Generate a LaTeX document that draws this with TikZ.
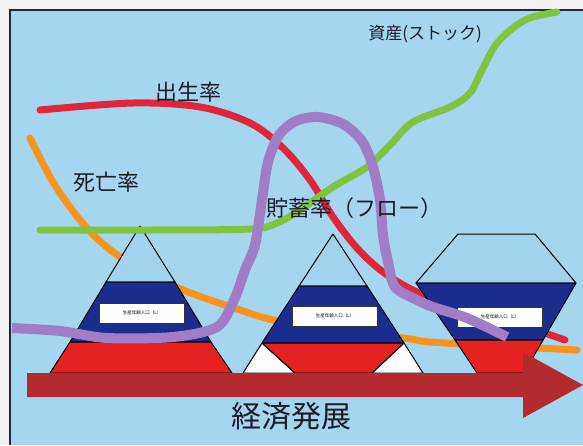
\documentclass[tikz,border=0pt]{standalone}
\usepackage{fontspec}
\setmainfont{Noto Sans CJK JP}
\definecolor{bgblue}{HTML}{A4D6F0}
\definecolor{pyrsky}{HTML}{A2D3EE}
\definecolor{navy}{HTML}{1B2E8E}
\definecolor{pyrred}{HTML}{E42222}
\definecolor{cgreen}{HTML}{7EC440}
\definecolor{cred}{HTML}{E0263A}
\definecolor{corange}{HTML}{F7941D}
\definecolor{cpurple}{HTML}{A07DC6}
\definecolor{arrowred}{HTML}{B32B2E}
\definecolor{txt}{HTML}{1C1C28}
\definecolor{framec}{HTML}{22283A}
\begin{document}
\begin{tikzpicture}[x=1pt,y=-1pt,
  curve/.style={line width=7pt, line cap=round, line join=round},
  lbl/.style={font=\fontsize{22}{22}\selectfont, text=txt, inner sep=0pt},
  agebox/.style={draw=black!80, fill=white, line width=0.7pt, minimum width=85pt,
    minimum height=20pt, inner sep=0pt, font=\fontsize{4.5}{5}\selectfont},
  layer/.style={draw=black, line width=1pt, line join=round}]
\useasboundingbox (0,0) rectangle (583,445);
\fill[white!94!black] (0,0) rectangle (583,445);
\fill[bgblue] (10,10) rectangle (583,445);
\draw[framec, line width=2pt] (10,445) -- (10,10) -- (583,10);

% red (birth rate)
\draw[curve, cred] plot[smooth, tension=0.55] coordinates {(40,110) (133,103) (200,107) (250,123) (283,148) (310,180) (333,217) (357,248) (383,272) (417,292) (470,312) (520,325) (565,340)};
% orange (death rate)
\draw[curve, corange] plot[smooth, tension=0.55] coordinates {(30,138) (50,177) (67,203) (85,226) (102,243) (122,258) (150,273) (183,290) (240,310) (273,320) (330,332) (403,338) (430,342) (500,346) (577,350)};

% pyramid 1
\path[layer, fill=pyrsky] (140,226) -- (106,282) -- (175,282) -- cycle;
\path[layer, fill=navy] (106,282) -- (175,282) -- (211,342) -- (70,342) -- cycle;
\path[layer, fill=pyrred] (70,342) -- (211,342) -- (232,373) -- (50,373) -- cycle;
\node[agebox] (age1) at (142,313) {生産年齢人口（L）};

% pyramid 2
\path[layer, fill=pyrsky] (333,234) -- (299,286) -- (367,286) -- cycle;
\path[layer, fill=navy] (299,286) -- (367,286) -- (404,343) -- (262,343) -- cycle;
\path[layer, fill=white] (262,343) -- (295,373) -- (243,373) -- cycle;
\path[layer, fill=white] (404,343) -- (423,373) -- (372,373) -- cycle;
\path[layer, fill=pyrred] (262,343) -- (404,343) -- (372,373) -- (295,373) -- cycle;
\node[agebox] (age2) at (335,316) {生産年齢人口（L）};

% pyramid 3 (hexagon)
\path[layer, fill=pyrsky] (458,234) -- (535,234) -- (576,283) -- (416,283) -- cycle;
\path[layer, fill=navy] (416,283) -- (576,283) -- (543,340) -- (455,340) -- cycle;
\path[layer, fill=pyrred] (455,340) -- (543,340) -- (524,373) -- (477,373) -- cycle;
\node[agebox] (age3) at (500,317) {生産年齢人口（L）};

% green (assets)
\draw[curve, cgreen] plot[smooth, tension=0.55] coordinates {(40,230) (150,230) (250,229) (277,223) (300,210) (333,187) (367,167) (390,145) (413,122) (450,107) (470,93) (482,70) (498,42) (525,20) (557,12)};

% purple (savings rate)
\draw[curve, cpurple, line width=10pt, line cap=butt] plot[smooth, tension=0.5] coordinates {(12,328) (60,331) (107,338) (173,337) (217,327) (234,300) (245,270) (255,245) (262,200) (268,162) (279,135) (296,121) (318,117) (343,124) (362,141) (373,167) (380,200) (383,235) (388,262) (395,287) (417,300) (433,307) (467,318) (507,337)};

% arrow
\fill[arrowred] (27,373) -- (523,373) -- (523,352) -- (583,385) -- (523,418) -- (523,397) -- (27,397) -- cycle;

% labels
\node[font=\fontsize{17}{17}\selectfont, text=txt, inner sep=0pt] (assets) at (425,34) {資産(ストック)};
\node[lbl] (birth) at (188,92) {出生率};
\node[lbl] (death) at (106,182) {死亡率};
\node[lbl, anchor=west] (savings) at (266,208) {貯蓄率（フロー）};
\node[font=\fontsize{30}{30}\selectfont, text=txt, inner sep=0pt] (econ) at (291,416) {経済発展};
\end{tikzpicture}
\end{document}
